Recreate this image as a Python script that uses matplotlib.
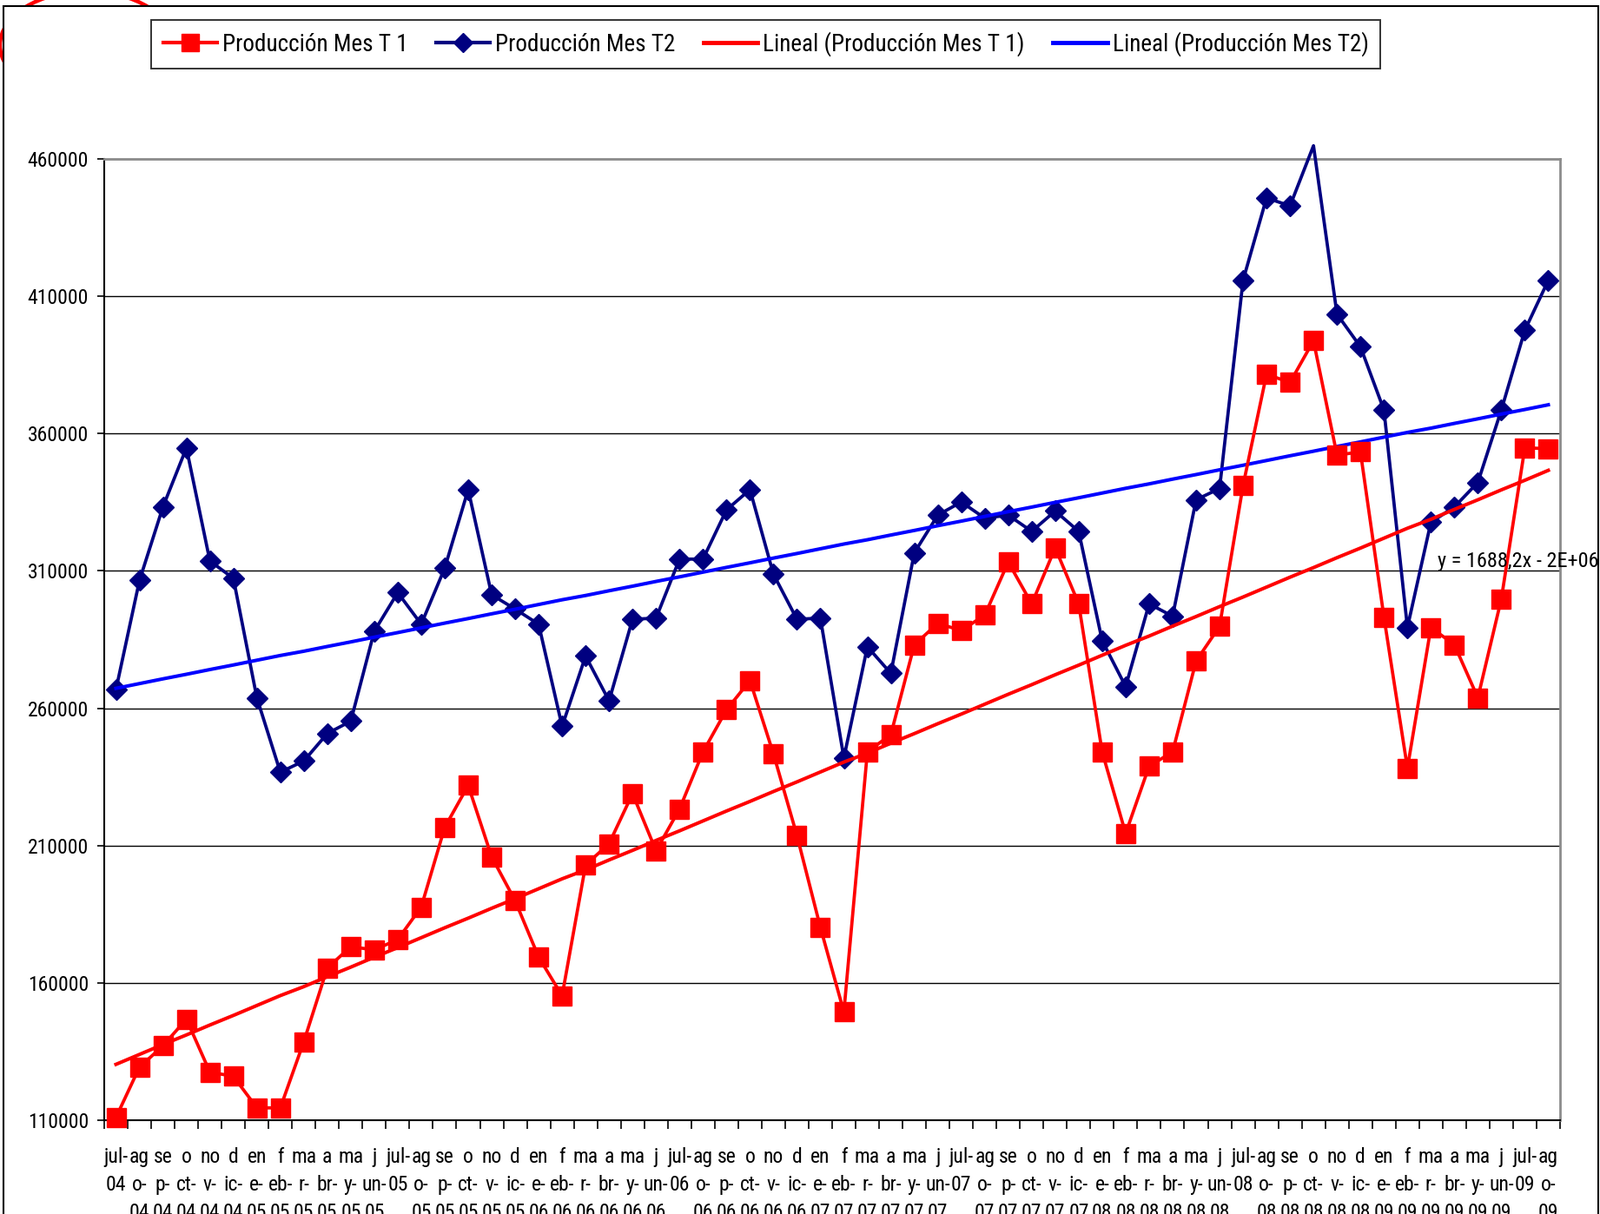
import numpy as np
import pandas as pd
import matplotlib
matplotlib.use("Agg")
import matplotlib.pyplot as plt
from matplotlib import font_manager as fm
from matplotlib.patches import Ellipse, Rectangle
from matplotlib.lines import Line2D

_names = {f.name for f in fm.fontManager.ttflist}
_narrow = next((n for n in ['Liberation Sans Narrow', 'Arial Narrow', 'Roboto Condensed']
                if n in _names), None)
if _narrow:
    plt.rcParams['font.family'] = [_narrow, 'Liberation Sans', 'DejaVu Sans']
    FS_LEG, FS_TICK, FS_EQ = 19.5, 17, 17.5
else:
    plt.rcParams['font.family'] = ['Liberation Sans', 'DejaVu Sans']
    FS_LEG, FS_TICK, FS_EQ = 17.5, 16, 16

# ---------------- data ----------------
month_names = ['jul', 'ago', 'sep', 'oct', 'nov', 'dic', 'ene', 'feb', 'mar', 'abr', 'may', 'jun']
# how each month abbreviation wraps in the category labels
month_wrap = {'jul': ['jul-'], 'ago': ['ag', 'o-'], 'sep': ['se', 'p-'], 'oct': ['o', 'ct-'],
              'nov': ['no', 'v-'], 'dic': ['d', 'ic-'], 'ene': ['en', 'e-'], 'feb': ['f', 'eb-'],
              'mar': ['ma', 'r-'], 'abr': ['a', 'br-'], 'may': ['ma', 'y-'], 'jun': ['j', 'un-']}

dates = pd.date_range('2004-07-01', periods=62, freq='MS')

prod_t1 = [111000, 129300, 137100, 146800, 127500, 126000, 114500, 114500, 138600, 165400,
           173200, 172000, 175800, 187600, 216600, 231900, 205900, 189900, 169400, 155300,
           202900, 210700, 228900, 208100, 223300, 244100, 259400, 270100, 243400, 213700,
           180200, 149400, 244100, 250400, 283100, 290900, 288300, 293900, 313200, 298000,
           318400, 298000, 244100, 214400, 238900, 244100, 277200, 289800, 341100, 381600,
           378600, 393800, 352200, 353300, 293200, 238200, 289400, 283100, 263800, 299800,
           354800, 354500]

prod_t2 = [266800, 306500, 333300, 354800, 313600, 307300, 263800, 236700, 240800, 250800,
           255300, 288000, 302100, 290600, 311000, 339600, 301300, 296100, 290600, 253400,
           279000, 262700, 292400, 292800, 314300, 314300, 332200, 339600, 308800, 292400,
           292800, 241900, 282400, 272700, 316600, 330300, 335100, 329200, 330300, 324400,
           331800, 324400, 284600, 267900, 298000, 293500, 335900, 340000, 415800, 445800,
           442900, 464800, 403500, 391600, 368600, 289400, 327700, 333300, 342200, 368600,
           397600, 415800]

y_ticks = [110000, 160000, 210000, 260000, 310000, 360000, 410000, 460000]
legend_labels = ['Producción Mes T 1', 'Producción Mes T2',
                 'Lineal (Producción Mes T 1)', 'Lineal (Producción Mes T2)']
equation_text = 'y = 1688,2x - 2E+06'

# ---------------- derived ----------------
labels = []
for d in dates:
    m = month_names[(d.month - 7) % 12]
    yy = f"{d.year % 100:02d}"
    labels.append("\n".join(month_wrap[m] + [yy]))

days = np.array([(d - pd.Timestamp('1899-12-30')).days for d in dates], dtype=float)
t1 = np.array(prod_t1, dtype=float)
t2 = np.array(prod_t2, dtype=float)
trend1 = np.polyval(np.polyfit(days, t1, 1), days)
trend2 = np.polyval(np.polyfit(days, t2, 1), days)

x = np.arange(len(dates))

# ---------------- figure ----------------
W, H = 1842, 1398
fig = plt.figure(figsize=(W / 100, H / 100), dpi=100)
fig.patch.set_facecolor('white')

# red ellipse behind the chart frame (only its edges show)
ell = Ellipse((100 / W, 1 - 52 / H), width=200 / W, height=124 / H,
              transform=fig.transFigure, fill=False, edgecolor='#FF0000',
              lw=3.2, zorder=-2)
fig.patches.append(ell)
frame = Rectangle((4 / W, -0.02), (1840 - 4) / W, 1 - 7 / H + 0.02,
                  transform=fig.transFigure, facecolor='white', edgecolor='black',
                  lw=1.5, zorder=-1)
fig.patches.append(frame)

left, right, top, bottom = 120, 1796, 183, 1290
ax = fig.add_axes([left / W, 1 - bottom / H, (right - left) / W, (bottom - top) / H])
ax.set_facecolor('white')

ax.set_xlim(-0.5, len(x) - 0.5)
ax.set_ylim(y_ticks[0], y_ticks[-1])
ax.set_yticks(y_ticks)
ax.set_yticklabels([str(v) for v in y_ticks], fontsize=FS_TICK)
ax.yaxis.grid(True, color='black', lw=1.0, zorder=0)
ax.set_axisbelow(True)

for s in ['top', 'right']:
    ax.spines[s].set_color('#8c8c8c')
    ax.spines[s].set_linewidth(2)
for s in ['left', 'bottom']:
    ax.spines[s].set_color('black')
    ax.spines[s].set_linewidth(1.5)

ax.tick_params(axis='y', direction='out', length=6, width=1.2, pad=7)
ax.set_xticks(x)
ax.set_xticklabels(labels, fontsize=FS_TICK, linespacing=1.5)
ax.tick_params(axis='x', which='major', length=0, pad=22)
ax.set_xticks(np.arange(-0.5, len(x)), minor=True)
ax.tick_params(axis='x', which='minor', direction='out', length=7, width=1.2)

# series
t2_mark = np.ma.masked_greater(t2, y_ticks[-1])
ax.plot(x, t2, color='#000080', lw=2.7, clip_on=False, zorder=3)
ax.plot(x, t2_mark, color='#000080', lw=0, marker='D', ms=12.5, clip_on=False, zorder=3)
ax.plot(x, trend2, color='#0000FF', lw=2.9, clip_on=False, zorder=3.5)
ax.plot(x, trend1, color='#FF0000', lw=2.9, clip_on=False, zorder=3.6)
ax.plot(x, t1, color='#FF0000', lw=2.7, marker='s', ms=15.5, clip_on=False, zorder=4)

fig.text(1840 / W, 1 - 646 / H, equation_text, fontsize=FS_EQ, ha='right', va='center')

handles = [
    Line2D([], [], color='#FF0000', lw=3, marker='s', ms=14),
    Line2D([], [], color='#000080', lw=3, marker='D', ms=11),
    Line2D([], [], color='#FF0000', lw=3.5),
    Line2D([], [], color='#0000FF', lw=3.5),
]
leg = fig.legend(handles, legend_labels, loc='upper left', ncol=4,
                 bbox_to_anchor=(174 / W, 1 - 23 / H), fontsize=FS_LEG,
                 frameon=True, fancybox=False, edgecolor='black',
                 handlelength=2.3, handletextpad=0.22, columnspacing=1.2,
                 borderpad=0.5, borderaxespad=0)
leg.get_frame().set_linewidth(1.4)

fig.savefig('out.png', dpi=100)
